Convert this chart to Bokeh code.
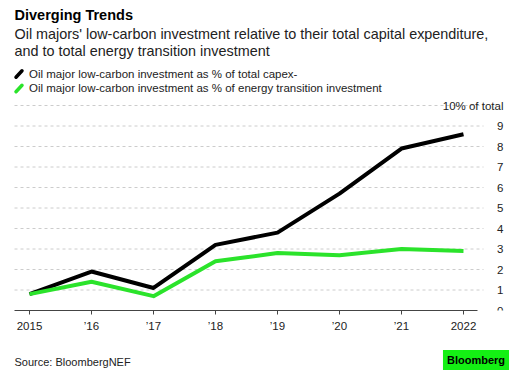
from bokeh.plotting import figure
from bokeh.layouts import column
from bokeh.models import (ColumnDataSource, FixedTicker, Label, Legend, LegendItem,
                          Range1d)
from bokeh.embed import file_html
from bokeh.resources import INLINE

# ---- data ----
years = [2015, 2016, 2017, 2018, 2019, 2020, 2021, 2022]
year_labels = ["2015", "’16", "’17", "’18", "’19", "’20", "’21", "2022"]
pct_capex = [0.8, 1.9, 1.1, 3.2, 3.8, 5.7, 7.9, 8.6]
pct_transition = [0.8, 1.4, 0.7, 2.4, 2.8, 2.7, 3.0, 2.9]
y_ticks = [0, 1, 2, 3, 4, 5, 6, 7, 8, 9, 10]
y_tick_labels = ["0", "1", "2", "3", "4", "5", "6", "7", "8", "9", "10% of total"]
series_names = ["Oil major low-carbon investment as % of total capex-",
                "Oil major low-carbon investment as % of energy transition investment"]

title = "Diverging Trends"
subtitle1 = "Oil majors' low-carbon investment relative to their total capital expenditure,"
subtitle2 = "and to total energy transition investment"
source_text = "Source: BloombergNEF"
badge_text = "Bloomberg"

FONT = "Liberation Sans"
BLACK = "#000000"
GREEN = "#2be32b"
BADGE = "#14f014"
TXT = "#222222"
series_colors = [BLACK, GREEN]

W = 521
MAIN_H = 334
FRAME_H = 310
FOOT_H = 377 - MAIN_H
PX_PER_YEAR = 62.0
PX_PER_UNIT = 20.5
X0_PX = 29  # pixel of first year

x_start = years[0] - X0_PX / PX_PER_YEAR
x_end = x_start + W / PX_PER_YEAR
y_start = 0
y_end = FRAME_H / PX_PER_UNIT


def px2x(px):
    return x_start + px / PX_PER_YEAR


def py2y(py):
    return (FRAME_H - py) / PX_PER_UNIT


p = figure(width=W, height=MAIN_H, output_backend="svg", toolbar_location=None,
           x_range=Range1d(x_start, x_end), y_range=Range1d(y_start, y_end),
           y_axis_location=None,
           min_border_left=0, min_border_right=0, min_border_top=0,
           min_border_bottom=MAIN_H - FRAME_H)
p.outline_line_color = None
p.background_fill_color = "white"
p.border_fill_color = "white"
p.xgrid.visible = False
p.ygrid.visible = False

# dotted horizontal gridlines
grid_src = ColumnDataSource(dict(y=y_ticks[1:]))
p.segment(x0=px2x(14), x1=px2x(483), y0="y", y1="y", source=grid_src,
          line_color="#cccccc", line_dash="3 3", line_width=1)

# x axis
ax = p.xaxis[0]
ax.bounds = (px2x(14), px2x(477))
ax.ticker = FixedTicker(ticks=years)
ax.major_label_overrides = {y: l for y, l in zip(years, year_labels)}
ax.axis_line_color = "#444444"
ax.major_tick_line_color = "#444444"
ax.major_tick_out = 4
ax.major_tick_in = 0
ax.minor_tick_out = 0
ax.minor_tick_in = 0
ax.major_label_standoff = 5
ax.major_label_text_font = FONT
ax.major_label_text_font_size = "11.5px"
ax.major_label_text_color = TXT

src = ColumnDataSource(dict(x=years, a=pct_capex, b=pct_transition))
l1 = p.line("x", "a", source=src, line_color=BLACK, line_width=4, line_join="round")
l2 = p.line("x", "b", source=src, line_color=GREEN, line_width=4, line_join="round")

# legend: text entries (glyph drawn separately as slanted strokes)
legend = Legend(items=[LegendItem(label=series_names[0], renderers=[l1]),
                       LegendItem(label=series_names[1], renderers=[l2])],
                location=(13, FRAME_H - 94), orientation="vertical",
                label_text_font=FONT, label_text_font_size="11.5px",
                label_text_color=TXT,
                glyph_width=0, glyph_height=12, label_standoff=16,
                spacing=2, padding=0, margin=0, label_height=12,
                border_line_color=None, background_fill_alpha=0,
                click_policy="none")
p.add_layout(legend, "center")

# slanted legend strokes
row_centers_px = [73.5, 88.0]
icon_src = ColumnDataSource(dict(
    x0=[px2x(15.5)] * 2, x1=[px2x(21.5)] * 2,
    y0=[py2y(c + 3.2) for c in row_centers_px],
    y1=[py2y(c - 3.2) for c in row_centers_px],
    c=series_colors))
p.segment("x0", "y0", "x1", "y1", source=icon_src, line_color="c",
          line_width=3.5, line_cap="round")

# y tick labels on right
for v, t in zip(y_ticks, y_tick_labels):
    p.add_layout(Label(x=px2x(503), y=v, text=t, text_align="right",
                       text_baseline="middle", text_font=FONT,
                       text_font_size="11.5px", text_color=TXT))

# titles
p.add_layout(Label(x=px2x(14), y=py2y(14), text=title, text_font=FONT,
                   text_font_style="bold", text_font_size="14.5px",
                   text_baseline="middle", text_color="#000000"))
p.add_layout(Label(x=px2x(14), y=py2y(33), text=subtitle1, text_font=FONT,
                   text_font_size="14.4px", text_baseline="middle", text_color=TXT))
p.add_layout(Label(x=px2x(14), y=py2y(50), text=subtitle2, text_font=FONT,
                   text_font_size="14.4px", text_baseline="middle", text_color=TXT))

# footer
f = figure(width=W, height=FOOT_H, output_backend="svg", toolbar_location=None,
           x_range=Range1d(0, W), y_range=Range1d(0, FOOT_H),
           x_axis_location=None, y_axis_location=None,
           min_border_left=0, min_border_right=0, min_border_top=0,
           min_border_bottom=0)
f.outline_line_color = None
f.xgrid.visible = False
f.ygrid.visible = False
f.add_layout(Label(x=14, y=FOOT_H - 27.5, text=source_text, text_font=FONT,
                   text_font_size="11px", text_baseline="middle", text_color=TXT))
f.add_layout(Label(x=475.5, y=FOOT_H - 25.5, text=badge_text,
                   text_font=FONT, text_font_style="bold", text_font_size="11px",
                   text_align="center", text_baseline="middle", text_color="#000000",
                   background_fill_color=BADGE, padding=4))

layout = column(p, f, spacing=0)
open("out.html", "w").write(file_html(layout, INLINE))
